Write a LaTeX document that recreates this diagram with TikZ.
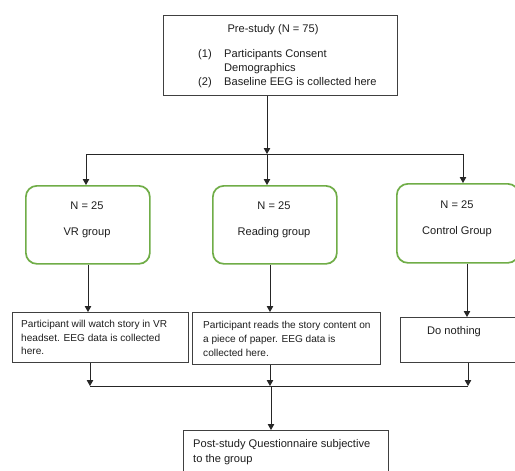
\documentclass[tikz,border=0pt]{standalone}
\usepackage{fontspec}
\setmainfont{Liberation Sans}
\usetikzlibrary{arrows.meta}
\definecolor{boxgreen}{HTML}{70AD47}
\definecolor{linegray}{HTML}{404040}
\definecolor{txt}{HTML}{1E1E1E}
\tikzset{
  plainbox/.style={draw=linegray, line width=1.2pt, inner sep=0pt, anchor=north west},
  greenbox/.style={draw=boxgreen, line width=1.7pt, rounded corners=11pt, inner sep=0pt, anchor=north west},
  lbl/.style={inner sep=0pt, anchor=base west, text=txt, font=\fontsize{11.1}{13}\selectfont},
  lblc/.style={inner sep=0pt, anchor=base, text=txt, font=\fontsize{11.1}{13}\selectfont},
  slbl/.style={inner sep=0pt, anchor=base west, text=txt, font=\fontsize{10.1}{12}\selectfont},
  arr/.style={draw=black!85, line width=1pt, -{Triangle[length=6pt,width=6.5pt]}},
  ln/.style={draw=black!85, line width=1pt}
}
\begin{document}
\begin{tikzpicture}[x=1pt,y=-1pt]
\useasboundingbox (0,0) rectangle (515,471);
\clip (0,0) rectangle (515,471);
\fill[white] (0,0) rectangle (515,471);
% top box
\node[plainbox, minimum width=234pt, minimum height=80pt] (top) at (163,15) {};
\node[lblc] (t0) at (273,32) {Pre-study (N = 75)};
\node[lbl] (t1n) at (198,57) {(1)};
\node[lbl] (t1) at (224,57) {Participants Consent};
\node[lbl] (t1b) at (224,71) {Demographics};
\node[lbl] (t2n) at (198,85) {(2)};
\node[lbl] (t2) at (224,85) {Baseline EEG is collected here};
% green boxes
\node[greenbox, minimum width=124pt, minimum height=78pt] (vr) at (25,185) {};
\node[greenbox, minimum width=124pt, minimum height=78pt] (rd) at (212,185) {};
\node[greenbox, minimum width=122pt, minimum height=79pt] (ct) at (396,183) {};
\node[lblc] (vrn) at (87,209) {N = 25};
\node[lblc] (vrt) at (87,235) {VR group};
\node[lblc] (rdn) at (274,209) {N = 25};
\node[lblc] (rdt) at (274,235) {Reading group};
\node[lblc] (ctn) at (457,208) {N = 25};
\node[lblc] (ctt) at (457,234) {Control Group};
% text boxes
\node[plainbox, minimum width=176pt, minimum height=50pt] (b1) at (12,312) {};
\node[plainbox, minimum width=188pt, minimum height=52pt] (b2) at (192,312) {};
\node[plainbox, minimum width=125pt, minimum height=45pt] (b3) at (400,317) {};
\node[slbl] (b1a) at (21,327) {Participant will watch story in VR};
\node[slbl] (b1b) at (21,341) {headset. EEG data is collected};
\node[slbl] (b1c) at (21,354) {here.};
\node[slbl] (b2a) at (203,328) {Participant reads the story content on};
\node[slbl] (b2b) at (203,342) {a piece of paper. EEG data is};
\node[slbl] (b2c) at (203,356) {collected here.};
\node[lbl] (b3a) at (427,334) {Do nothing};
% bottom box
\node[plainbox, minimum width=205pt, minimum height=60pt] (post) at (183,430) {};
\node[lbl] (pa) at (193,447) {Post-study Questionnaire subjective};
\node[lbl] (pb) at (193,462) {to the group};
% routing coordinates
\coordinate (s) at (267,154);
\coordinate (sl) at (86,154);
\coordinate (sr) at (463,154);
\coordinate (j) at (271,386);
\coordinate (jl) at (90,386);
\coordinate (jm) at (270,386);
\coordinate (jr) at (468,386);
% connectors
\draw[arr] (top.south -| s) -- (s);
\draw[ln] (sl) -- (sr);
\draw[arr] (sl) -- (sl |- vr.north);
\draw[arr] (s) -- (s |- rd.north);
\draw[arr] (sr) -- (sr |- ct.north);
\draw[arr] (vr.south -| 88,0) -- (b1.north -| 88,0);
\draw[arr] (rd.south -| 270,0) -- (b2.north -| 270,0);
\draw[arr] (ct.south -| 467,0) -- (b3.north -| 467,0);
\draw[arr] (b1.south -| jl) -- (jl);
\draw[arr] (b2.south -| jm) -- (jm);
\draw[arr] (b3.south -| jr) -- (jr);
\draw[ln] (jl) -- (jr);
\draw[arr] (j) -- (j |- post.north);
\end{tikzpicture}
\end{document}
